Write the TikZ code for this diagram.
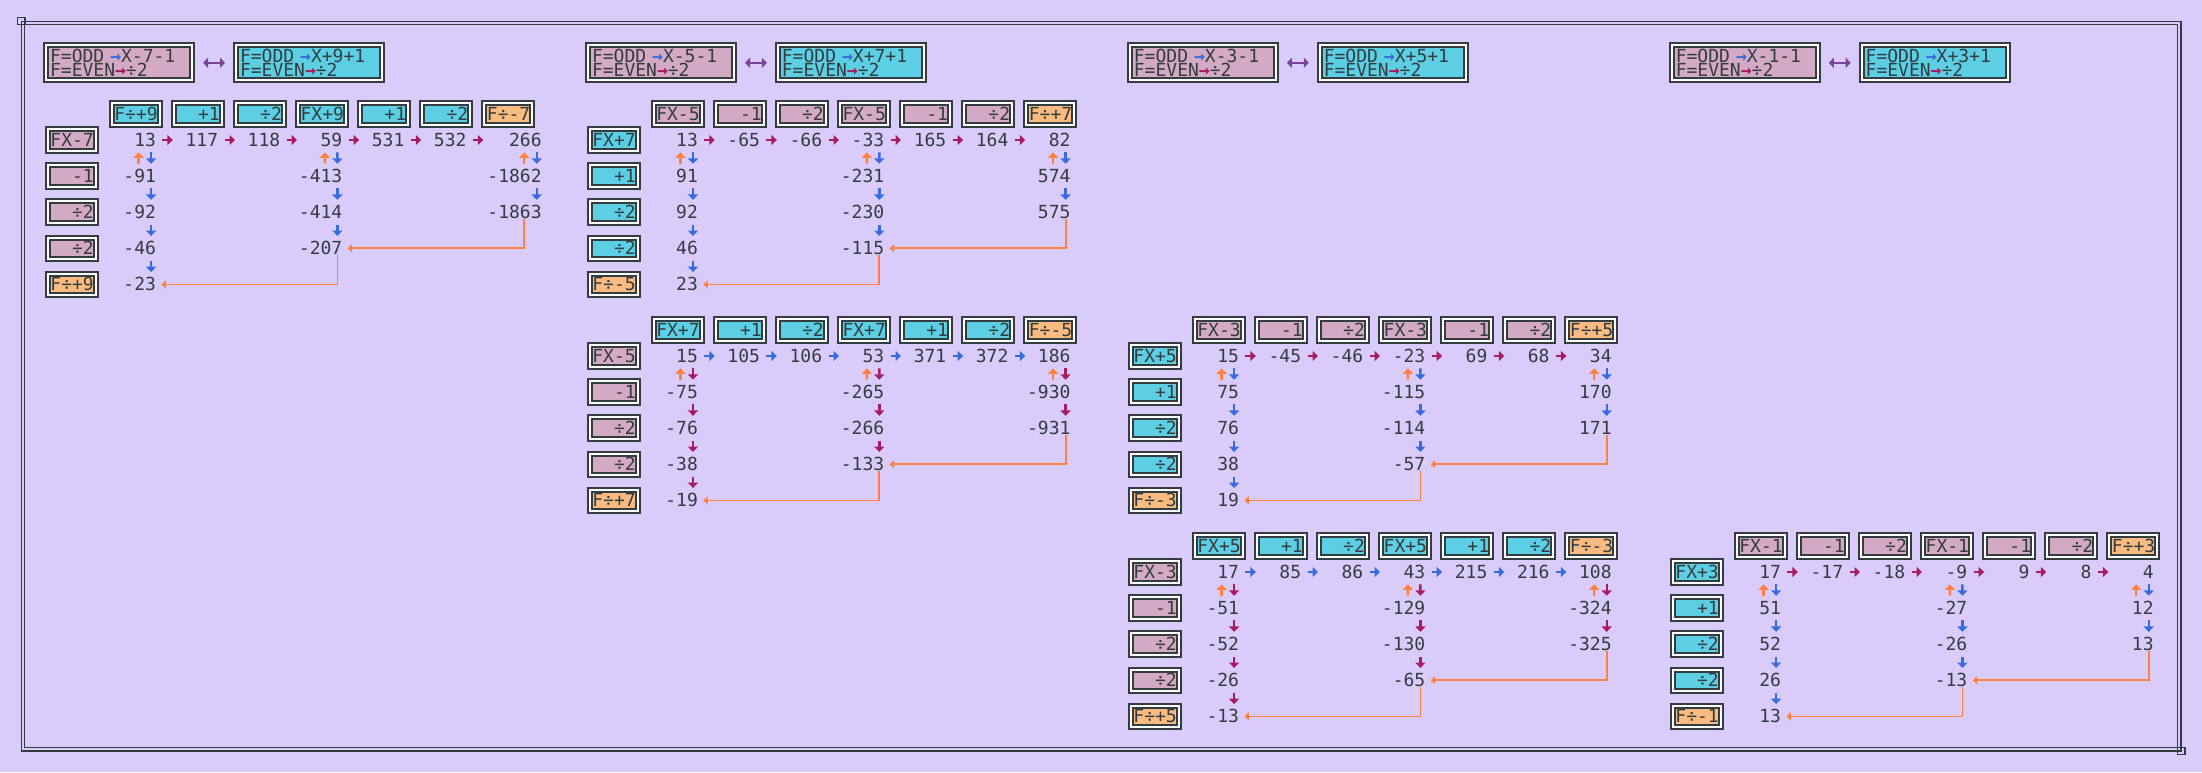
\documentclass[tikz,border=0pt]{standalone}
\usepackage{fontspec}
\newfontfamily\pixfont{DejaVu Sans Mono}
\usetikzlibrary{arrows.meta}
\definecolor{bg}{HTML}{D9CCFB}
\definecolor{ink}{HTML}{333C3E}
\definecolor{pk}{HTML}{D4A9C5}
\definecolor{cy}{HTML}{5DCFE4}
\definecolor{og}{HTML}{F9BB80}
\definecolor{bl}{HTML}{3A6BDD}
\definecolor{mg}{HTML}{A51D60}
\definecolor{ar}{HTML}{FF8040}
\definecolor{pu}{HTML}{7B4397}
\begin{document}
\begin{tikzpicture}[x=0.5pt, y=-0.5pt, text=ink, font=\pixfont\fontsize{9pt}{7.15pt}\selectfont]
    % odd/even step tables, coordinates in pixels, y running down
    \tikzset{opbox/.style={draw=ink, double=white, line width=1pt, double distance=1pt, minimum width=24pt, minimum height=10.75pt, inner sep=0pt, text width=22pt, align=right},
      legbox/.style={draw=ink, double=white, line width=1pt, double distance=1pt, minimum width=73pt, minimum height=17.5pt, inner sep=0pt, text width=69pt, align=left},
      num/.style={inner sep=0pt, text height=6.56pt, text depth=0pt, anchor=east},
      hop/.style={-{Triangle[length=2.7pt, width=5pt]}, line width=1.2pt, shorten <=3pt},
      vop/.style={-{Triangle[length=2.7pt, width=5pt]}, line width=1.2pt, shorten <=2.7pt, shorten >=2.7pt},
      back/.style={-{Triangle[length=2.2pt, width=4pt]}, draw=ar, line width=0.85pt, shorten >=2.5pt},
      pair/.style={{Triangle[length=2.5pt, width=5pt]}-{Triangle[length=2.5pt, width=5pt]}, draw=pu, line width=1.1pt, shorten <=5pt, shorten >=5pt}}
    \useasboundingbox (0,0) rectangle (2202,772);
    \fill[bg] (0,0) rectangle (2202,772);
    \draw[ink, double=bg, line width=0.7pt, double distance=1.05pt] (23,23) rectangle (2179.3,749.2);
    \draw[ink, line width=0.7pt] (17.5,17.4) rectangle (25,24.3) (2177.3,747.4) rectangle (2184.8,754.3);
    % legends
    \foreach \col/\mo/\pl in {0/7/9, 1/5/7, 2/3/5, 3/1/3} {
        \node[legbox, fill=pk] (legp\col) at ({119.1+541.9*\col},62.8) {F=ODD\ {\bfseries\color{bl}→}X-\mo-1\\F=EVEN{\bfseries\color{mg}→}÷2};
        \node[legbox, fill=cy] (legc\col) at ({309+541.9*\col},62.8) {F=ODD\ {\bfseries\color{bl}→}X+\pl+1\\F=EVEN{\bfseries\color{mg}→}÷2};
        \draw[pair] (legp\col) -- (legc\col);
    }
    \begin{scope}[name prefix=A-]
        \foreach \lab/\fc [count=\idx] in {F÷+9/cy,+1/cy,÷2/cy,FX+9/cy,+1/cy,÷2/cy,F÷-7/og} \node[opbox, fill=\fc] (h\idx) at ({73.6+62.1*\idx},113.8) {\lab};
        \foreach \lab/\fc [count=\row from 0] in {FX-7/pk,-1/pk,÷2/pk,÷2/pk,F÷+9/og} \node[opbox, fill=\fc] (r\row) at (71.8,{140+36.1*\row}) {\lab};
        \foreach \val [count=\idx] in {13,117,118,59,531,532} \node[num] (n\idx-0) at ({94.3+62.1*\idx},140) {\val};
        \foreach \val [count=\row] in {-91,-92,-46,-23} \node[num] (n1-\row) at (156.4,{140+36.1*\row}) {\val};
        \foreach \val [count=\row] in {-413,-414,-207} \node[num] (n4-\row) at (342.7,{140+36.1*\row}) {\val};
        \foreach \val [count=\row from 0] in {266,-1862,-1863} \node[num] (n7-\row) at (542,{140+36.1*\row}) {\val};
        \coordinate (k) at (524,0);
    \end{scope}
    \begin{scope}[shift={(541.9,0)}, name prefix=B-]
        \foreach \lab/\fc [count=\idx] in {FX-5/pk,-1/pk,÷2/pk,FX-5/pk,-1/pk,÷2/pk,F÷+7/og} \node[opbox, fill=\fc] (h\idx) at ({73.6+62.1*\idx},113.8) {\lab};
        \foreach \lab/\fc [count=\row from 0] in {FX+7/cy,+1/cy,÷2/cy,÷2/cy,F÷-5/og} \node[opbox, fill=\fc] (r\row) at (71.8,{140+36.1*\row}) {\lab};
        \foreach \val [count=\idx] in {13,-65,-66,-33,165,164} \node[num] (n\idx-0) at ({94.3+62.1*\idx},140) {\val};
        \foreach \val [count=\row] in {91,92,46,23} \node[num] (n1-\row) at (156.4,{140+36.1*\row}) {\val};
        \foreach \val [count=\row] in {-231,-230,-115} \node[num] (n4-\row) at (342.7,{140+36.1*\row}) {\val};
        \foreach \val [count=\row from 0] in {82,574,575} \node[num] (n7-\row) at (529,{140+36.1*\row}) {\val};
        \coordinate (k) at (524,0);
    \end{scope}
    \begin{scope}[shift={(541.9,216)}, name prefix=B2-]
        \foreach \lab/\fc [count=\idx] in {FX+7/cy,+1/cy,÷2/cy,FX+7/cy,+1/cy,÷2/cy,F÷-5/og} \node[opbox, fill=\fc] (h\idx) at ({73.6+62.1*\idx},113.8) {\lab};
        \foreach \lab/\fc [count=\row from 0] in {FX-5/pk,-1/pk,÷2/pk,÷2/pk,F÷+7/og} \node[opbox, fill=\fc] (r\row) at (71.8,{140+36.1*\row}) {\lab};
        \foreach \val [count=\idx] in {15,105,106,53,371,372} \node[num] (n\idx-0) at ({94.3+62.1*\idx},140) {\val};
        \foreach \val [count=\row] in {-75,-76,-38,-19} \node[num] (n1-\row) at (156.4,{140+36.1*\row}) {\val};
        \foreach \val [count=\row] in {-265,-266,-133} \node[num] (n4-\row) at (342.7,{140+36.1*\row}) {\val};
        \foreach \val [count=\row from 0] in {186,-930,-931} \node[num] (n7-\row) at (529,{140+36.1*\row}) {\val};
        \coordinate (k) at (524,0);
    \end{scope}
    \begin{scope}[shift={(1083,216)}, name prefix=C-]
        \foreach \lab/\fc [count=\idx] in {FX-3/pk,-1/pk,÷2/pk,FX-3/pk,-1/pk,÷2/pk,F÷+5/og} \node[opbox, fill=\fc] (h\idx) at ({73.6+62.1*\idx},113.8) {\lab};
        \foreach \lab/\fc [count=\row from 0] in {FX+5/cy,+1/cy,÷2/cy,÷2/cy,F÷-3/og} \node[opbox, fill=\fc] (r\row) at (71.8,{140+36.1*\row}) {\lab};
        \foreach \val [count=\idx] in {15,-45,-46,-23,69,68} \node[num] (n\idx-0) at ({94.3+62.1*\idx},140) {\val};
        \foreach \val [count=\row] in {75,76,38,19} \node[num] (n1-\row) at (156.4,{140+36.1*\row}) {\val};
        \foreach \val [count=\row] in {-115,-114,-57} \node[num] (n4-\row) at (342.7,{140+36.1*\row}) {\val};
        \foreach \val [count=\row from 0] in {34,170,171} \node[num] (n7-\row) at (529,{140+36.1*\row}) {\val};
        \coordinate (k) at (524,0);
    \end{scope}
    \begin{scope}[shift={(1083,432)}, name prefix=C2-]
        \foreach \lab/\fc [count=\idx] in {FX+5/cy,+1/cy,÷2/cy,FX+5/cy,+1/cy,÷2/cy,F÷-3/og} \node[opbox, fill=\fc] (h\idx) at ({73.6+62.1*\idx},113.8) {\lab};
        \foreach \lab/\fc [count=\row from 0] in {FX-3/pk,-1/pk,÷2/pk,÷2/pk,F÷+5/og} \node[opbox, fill=\fc] (r\row) at (71.8,{140+36.1*\row}) {\lab};
        \foreach \val [count=\idx] in {17,85,86,43,215,216} \node[num] (n\idx-0) at ({94.3+62.1*\idx},140) {\val};
        \foreach \val [count=\row] in {-51,-52,-26,-13} \node[num] (n1-\row) at (156.4,{140+36.1*\row}) {\val};
        \foreach \val [count=\row] in {-129,-130,-65} \node[num] (n4-\row) at (342.7,{140+36.1*\row}) {\val};
        \foreach \val [count=\row from 0] in {108,-324,-325} \node[num] (n7-\row) at (529,{140+36.1*\row}) {\val};
        \coordinate (k) at (524,0);
    \end{scope}
    \begin{scope}[shift={(1625,432)}, name prefix=D-]
        \foreach \lab/\fc [count=\idx] in {FX-1/pk,-1/pk,÷2/pk,FX-1/pk,-1/pk,÷2/pk,F÷+3/og} \node[opbox, fill=\fc] (h\idx) at ({73.6+62.1*\idx},113.8) {\lab};
        \foreach \lab/\fc [count=\row from 0] in {FX+3/cy,+1/cy,÷2/cy,÷2/cy,F÷-1/og} \node[opbox, fill=\fc] (r\row) at (71.8,{140+36.1*\row}) {\lab};
        \foreach \val [count=\idx] in {17,-17,-18,-9,9,8} \node[num] (n\idx-0) at ({94.3+62.1*\idx},140) {\val};
        \foreach \val [count=\row] in {51,52,26,13} \node[num] (n1-\row) at (156.4,{140+36.1*\row}) {\val};
        \foreach \val [count=\row] in {-27,-26,-13} \node[num] (n4-\row) at (342.7,{140+36.1*\row}) {\val};
        \foreach \val [count=\row from 0] in {4,12,13} \node[num] (n7-\row) at (529,{140+36.1*\row}) {\val};
        \coordinate (k) at (524,0);
    \end{scope}
    % connectors of every table
    \foreach \blk/\hc/\vc in {A/mg/bl, B/mg/bl, B2/bl/mg, C/mg/bl, C2/bl/mg, D/mg/bl} {
        \foreach \idx/\nxt in {1/2,2/3,3/4,4/5,5/6,6/7} \draw[hop, \hc] (\blk-n\idx-0.east) -- (\blk-n\idx-0.east -| \blk-h\nxt.west);
        \foreach \cl/\hi/\lo in {1/0/1,1/1/2,1/2/3,1/3/4,4/0/1,4/1/2,4/2/3,7/0/1,7/1/2}
            \draw[vop, \vc] ([xshift=-2.65pt]\blk-n\cl-\hi.south east) -- ([xshift=-2.65pt]\blk-n\cl-\lo.north east);
        \foreach \cl in {1,4,7} \draw[vop, ar] ([xshift=-8.9pt]\blk-n\cl-1.north east) -- ([xshift=-8.9pt]\blk-n\cl-0.south east);
        \draw[back] (\blk-n7-2.south -| \blk-k) |- (\blk-n4-3.east);
        \draw[back] ([xshift=-2.65pt]\blk-n4-3.south east) |- (\blk-n1-4.east);
    }
\end{tikzpicture}
\end{document}
